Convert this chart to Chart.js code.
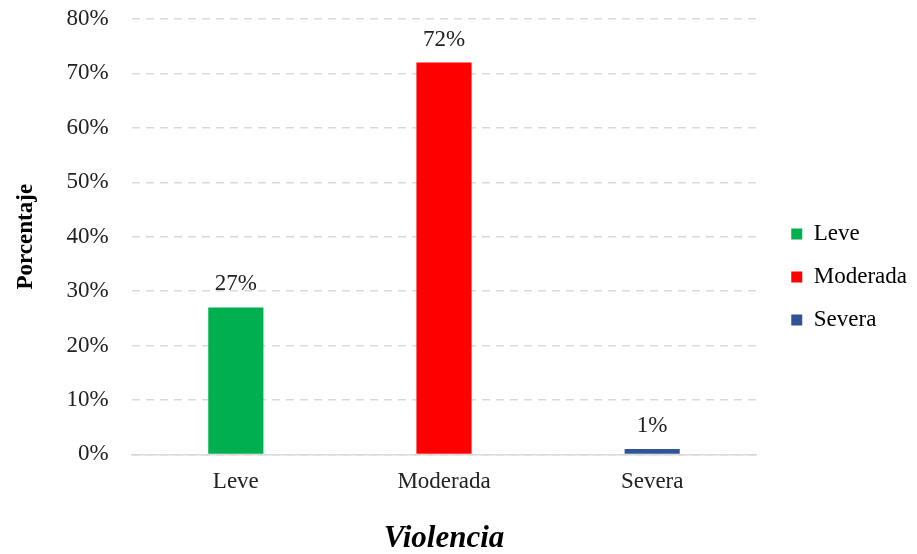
<!DOCTYPE html>
<html>
<head>
<meta charset="utf-8">
<script src="https://cdn.jsdelivr.net/npm/chart.js@4"></script>
<style>
  html, body { margin: 0; padding: 0; background: #fff; }
  #wrap { width: 917px; height: 554px; }
</style>
</head>
<body>
<div id="wrap"><canvas id="myChart"></canvas></div>
<script>
const categories = ['Leve', 'Moderada', 'Severa'];
const values = [27, 72, 1];
const barColors = ['#00B050', '#FF0000', '#2F5597'];
const yTicks = [0, 10, 20, 30, 40, 50, 60, 70, 80];

const font = 'Liberation Serif';

// draws the % value on top of each bar
const valueLabels = {
  id: 'valueLabels',
  afterDatasetsDraw(chart) {
    const ctx = chart.ctx;
    const meta = chart.getDatasetMeta(0);
    ctx.save();
    ctx.font = '23px "' + font + '"';
    ctx.fillStyle = '#222';
    ctx.textAlign = 'center';
    ctx.textBaseline = 'middle';
    meta.data.forEach((bar, i) => {
      ctx.fillText(values[i] + '%', bar.x, bar.y - 23);
    });
    ctx.restore();
  }
};

const ctx = document.getElementById('myChart').getContext('2d');
const myChart = new Chart(ctx, {
  type: 'bar',
  data: {
    labels: categories,
    datasets: [{
      data: values,
      backgroundColor: barColors,
      categoryPercentage: 1,
      barPercentage: 0.265
    }]
  },
  options: {
    responsive: true,
    maintainAspectRatio: false,
    animation: false,
    layout: { padding: { top: 0, left: 12, right: 0, bottom: 0 } },
    plugins: {
      tooltip: { enabled: false },
      legend: {
        position: 'right',
        labels: {
          font: { family: font, size: 23 },
          color: '#222',
          boxWidth: 11,
          boxHeight: 11,
          padding: 20,
          generateLabels() {
            return categories.map((c, i) => ({
              text: c,
              fillStyle: barColors[i],
              strokeStyle: barColors[i],
              lineWidth: 0,
              index: i
            }));
          }
        }
      }
    },
    scales: {
      x: {
        grid: { display: false, drawTicks: false },
        border: { display: true, color: '#d9d9d9', width: 1.5 },
        ticks: { font: { family: font, size: 23 }, color: '#222', padding: 14 },
        title: {
          display: true,
          text: 'Violencia',
          font: { family: font, size: 31, weight: 'bold', style: 'italic', lineHeight: 1 },
          color: '#000',
          padding: { top: 13, bottom: 0 }
        }
      },
      y: {
        min: 0,
        max: 80,
        afterBuildTicks(axis) {
          axis.ticks = yTicks.map(v => ({ value: v }));
        },
        afterFit(axis) {
          axis.paddingTop = 19;
          axis.paddingBottom = 14;
        },
        grid: {
          color: '#d9d9d9',
          lineWidth: 1.5,
          drawTicks: false
        },
        border: { display: false, dash: [8, 6] },
        ticks: {
          font: { family: font, size: 23 },
          color: '#222',
          padding: 23,
          callback: v => v + '%'
        },
        title: {
          display: true,
          text: 'Porcentaje',
          font: { family: font, size: 23, weight: 'bold' },
          color: '#000',
          padding: { top: 0, bottom: 4 }
        }
      },
      // empty spacer between plot and legend
      gap: {
        type: 'linear',
        position: 'right',
        grid: { display: false, drawTicks: false },
        border: { display: false },
        ticks: { display: false },
        afterFit(axis) {
          axis.width = 15;
        }
      }
    }
  },
  plugins: [valueLabels]
});
</script>
</body>
</html>
